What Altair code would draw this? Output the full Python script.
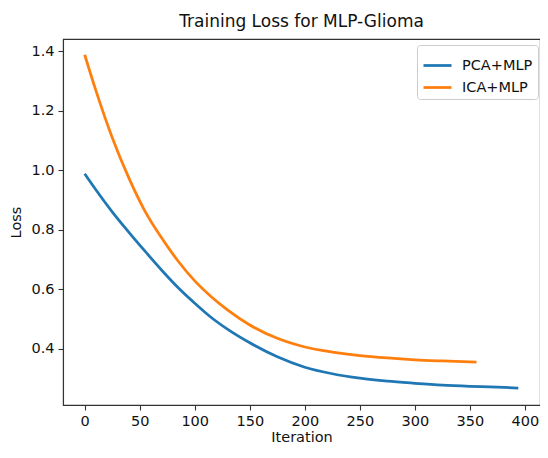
import altair as alt
import pandas as pd

# Values
pca_iter = [0, 10, 25, 40, 55, 70, 85, 100, 115, 130, 150, 175, 200, 225, 250, 275, 300, 325, 350, 375, 394]
pca_loss = [0.988, 0.935, 0.860, 0.792, 0.727, 0.664, 0.605, 0.553, 0.505, 0.465, 0.420, 0.373, 0.338, 0.316, 0.301, 0.291, 0.284, 0.278, 0.274, 0.271, 0.268]

ica_iter = [0, 10, 25, 40, 55, 70, 85, 100, 115, 130, 150, 175, 200, 225, 250, 275, 300, 325, 356]
ica_loss = [1.388, 1.270, 1.110, 0.975, 0.861, 0.772, 0.694, 0.628, 0.575, 0.530, 0.480, 0.435, 0.406, 0.389, 0.377, 0.369, 0.363, 0.359, 0.355]

series_names = ["PCA+MLP", "ICA+MLP"]
series_colors = ["#1f77b4", "#ff7f0e"]
x_ticks = [0, 50, 100, 150, 200, 250, 300, 350, 400]
y_ticks = [0.4, 0.6, 0.8, 1.0, 1.2, 1.4]

df = pd.concat([
    pd.DataFrame({"Iteration": pca_iter, "Loss": pca_loss, "Model": series_names[0]}),
    pd.DataFrame({"Iteration": ica_iter, "Loss": ica_loss, "Model": series_names[1]}),
])

FONT = "DejaVu Sans"

chart = alt.Chart(df).mark_line(strokeWidth=2.75, interpolate="monotone").encode(
    x=alt.X("Iteration:Q",
            scale=alt.Scale(domain=[-19.7, 413.7], nice=False, zero=False),
            axis=alt.Axis(values=x_ticks, title="Iteration", format="d",
                          labelPadding=4, titlePadding=3)),
    y=alt.Y("Loss:Q",
            scale=alt.Scale(domain=[0.211, 1.441], nice=False, zero=False),
            axis=alt.Axis(values=y_ticks, title="Loss", format=".1f",
                          labelPadding=4, titlePadding=7)),
    color=alt.Color("Model:N",
                    scale=alt.Scale(domain=series_names, range=series_colors),
                    legend=alt.Legend(orient="none", legendX=354, legendY=6,
                                      title=None, symbolType="stroke",
                                      symbolSize=784, symbolStrokeWidth=2.75,
                                      labelFontSize=14.5, labelFont=FONT,
                                      labelColor="#111111", labelOffset=9,
                                      strokeColor="#cccccc", fillColor="white",
                                      cornerRadius=3, padding=5, rowPadding=0)),
    order=alt.Order("Iteration:Q"),
).properties(
    width=477,
    height=366,
    title=alt.Title("Training Loss for MLP-Glioma", fontSize=17, font=FONT,
                    fontWeight="normal", color="#111111", offset=8),
    autosize=alt.AutoSizeParams(type="none"),
    padding={"left": 55, "top": 31, "right": 0, "bottom": 44},
).configure_view(
    stroke="#333333", strokeWidth=1.1
).configure_axis(
    grid=False,
    domainColor="#333333", domainWidth=1.1,
    tickColor="#333333", tickWidth=1.1, tickSize=5,
    labelFont=FONT, labelFontSize=14.5, labelColor="#111111",
    titleFont=FONT, titleFontSize=14.5, titleColor="#111111",
    titleFontWeight="normal",
)

chart.save("out.html", embed_options={"renderer": "svg", "actions": False})
